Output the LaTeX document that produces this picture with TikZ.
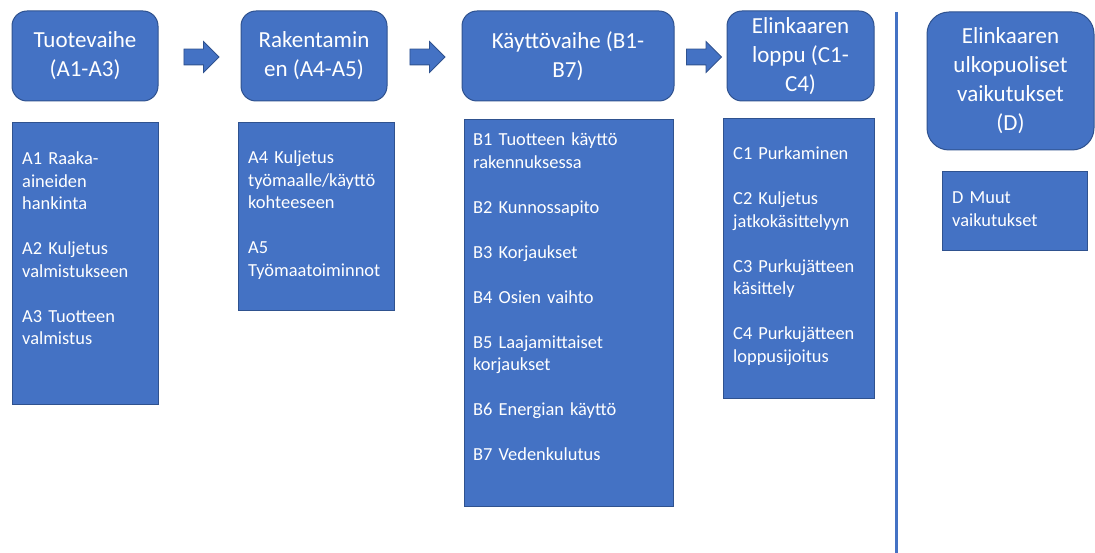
\documentclass[tikz,border=0pt]{standalone}
\usepackage{fontspec}
\setmainfont{Carlito}
\usetikzlibrary{shapes.arrows}

\definecolor{sininen}{HTML}{4472C4}
\definecolor{reuna}{HTML}{2F528F}

\tikzset{
  vaihe/.style={draw=reuna,fill=sininen,line width=1pt,rounded corners=15pt},
  runko/.style={draw=reuna,fill=sininen,line width=1pt},
  otsikko/.style={text=white,align=center,font=\fontsize{23}{29}\selectfont},
  teksti/.style={text=white,align=left,text width=150pt,inner sep=0pt,anchor=base west,font=\fontsize{18.4}{22.5}\selectfont},
  nuoli/.style={single arrow,draw=reuna,fill=sininen,line width=0.8pt,minimum height=35pt,text height=15pt,text depth=0pt,text width=0pt,single arrow head extend=7.5pt,inner sep=0pt}
}

\begin{document}
\begin{tikzpicture}[x=1pt,y=-1pt]
        \useasboundingbox (0,0) rectangle (1095,553);
        % otsikot
        \draw[vaihe] (  12, 11) rectangle ( 158,101) node[midway,otsikko] (tuote) {Tuotevaihe\\(A1-A3)};
        \draw[vaihe] ( 241, 11) rectangle ( 387,101) node[midway,otsikko] (raken) {Rakentamin\\en (A4-A5)};
        \draw[vaihe] ( 462, 11) rectangle ( 674,101) node[midway,otsikko] (kaytto) {Käyttövaihe (B1-\\B7)};
        \draw[vaihe] ( 727, 11) rectangle ( 874,101) node[midway,otsikko] (loppu) {Elinkaaren\\loppu (C1-\\C4)};
        \draw[vaihe,rounded corners=22pt] ( 927, 12) rectangle (1094,150) node[midway,otsikko] (ulko) {Elinkaaren\\ulkopuoliset\\vaikutukset\\(D)};
        % nuolet
        \node[nuoli] (nuoli1) at (197.5,57) {};
        \node[nuoli] (nuoli2) at (423.5,57) {};
        \node[nuoli] (nuoli3) at (700.0,57) {};
        % erotin
        \draw[sininen,line width=2.6pt] (896.7,12) -- (896.7,553);
        % sisalto
        \draw[runko] (  12,123) rectangle ( 158,404);
        \draw[runko] ( 238,123) rectangle ( 394,311);
        \draw[runko] ( 464,120) rectangle ( 673,506);
        \draw[runko] ( 723,119) rectangle ( 874,398);
        \draw[runko] ( 942,172) rectangle (1087,251);
        \node[teksti] (avaihe) at ( 22,165) {A1 Raaka-\\aineiden\\hankinta\\[22.5pt]A2 Kuljetus\\valmistukseen\\[22.5pt]A3 Tuotteen\\valmistus};
        \node[teksti] (rvaihe) at (248,164) {A4 Kuljetus\\työmaalle/käyttö\\kohteeseen\\[22.5pt]A5\\Työmaatoiminnot};
        \node[teksti] (kvaihe) at (473,146) {B1 Tuotteen käyttö\\rakennuksessa\\[22.5pt]B2 Kunnossapito\\[22.5pt]B3 Korjaukset\\[22.5pt]B4 Osien vaihto\\[22.5pt]B5 Laajamittaiset\\korjaukset\\[22.5pt]B6 Energian käyttö\\[22.5pt]B7 Vedenkulutus};
        \node[teksti] (lvaihe) at (733,160) {C1 Purkaminen\\[22.5pt]C2 Kuljetus\\jatkokäsittelyyn\\[22.5pt]C3 Purkujätteen\\käsittely\\[22.5pt]C4 Purkujätteen\\loppusijoitus};
        \node[teksti] (uvaihe) at (952,204) {D Muut\\vaikutukset};
      \end{tikzpicture}
\end{document}
